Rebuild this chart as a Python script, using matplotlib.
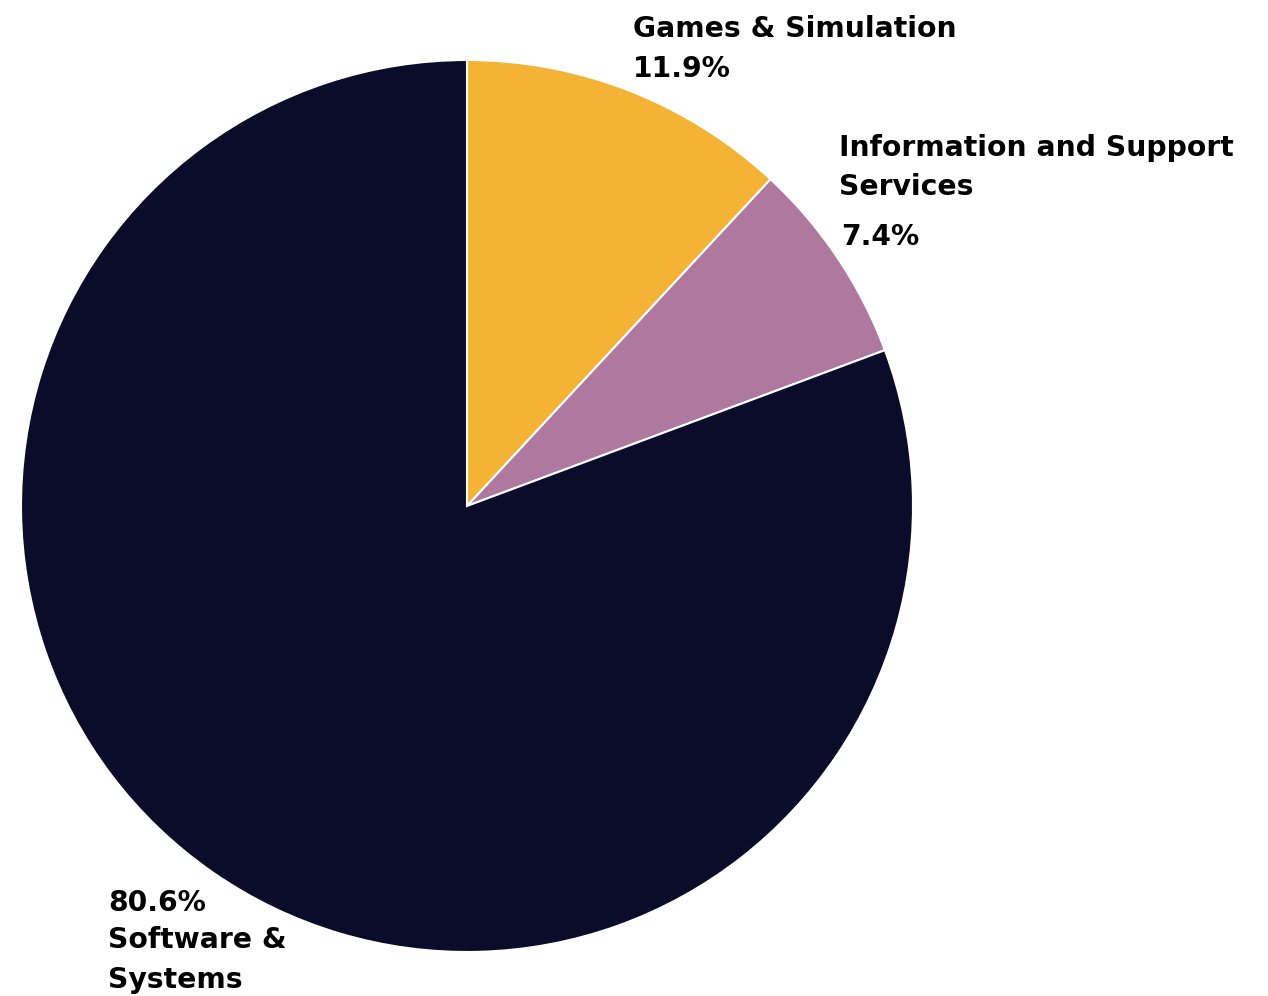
import matplotlib
matplotlib.use('Agg')
import matplotlib.pyplot as plt

# slice data (clockwise from top)
labels = ['Games & Simulation', 'Information and Support Services', 'Software & Systems']
shares = [11.9, 7.4, 80.6]
colors = ['#F5B335', '#AF799F', '#0A0C29']

W, H = 1268, 996
fig = plt.figure(figsize=(W / 100, H / 100), dpi=100)
ax = fig.add_axes([0, 0, 1, 1])

ax.pie(shares, colors=colors, startangle=90, counterclock=False,
       center=(467, H - 506), radius=446, frame=True,
       wedgeprops=dict(edgecolor='white', linewidth=1.5))
ax.set_xlim(0, W)
ax.set_ylim(0, H)
ax.set_aspect('equal')
ax.axis('off')

font = dict(family='DejaVu Sans', weight='bold', color='black', va='baseline', ha='left')

def put(x, y, s, size=20.3):
    ax.text(x, H - y, s, fontsize=size, **font)

# Games & Simulation
put(633, 37, 'Games & Simulation')
put(633, 77, '{:.1f}%'.format(shares[0]))
# Information and Support Services
put(839, 156, 'Information and Support')
put(839, 195, 'Services')
put(841, 245, '{:.1f}%'.format(shares[1]))
# Software & Systems
put(108, 911, '{:.1f}%'.format(shares[2]))
put(108, 948, 'Software &')
put(108, 988, 'Systems')

fig.savefig('out.png', dpi=100)
